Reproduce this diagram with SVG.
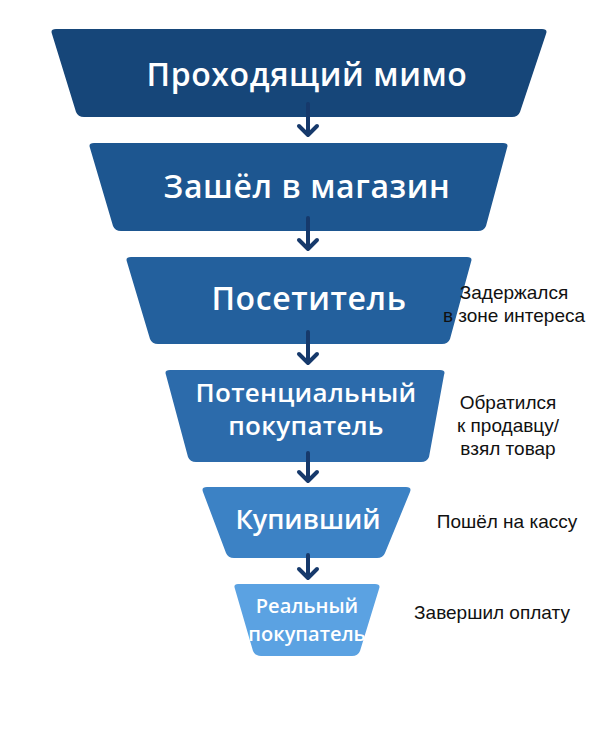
<svg xmlns="http://www.w3.org/2000/svg" width="614" height="739" viewBox="0 0 614 739">
<style>
.t{font-family:"Open Sans","DejaVu Sans",sans-serif;fill:#fff;font-weight:600;text-anchor:middle}
.s{font-family:"Liberation Sans",Arial,sans-serif;fill:#111;font-size:19px;text-anchor:middle}
.c{stroke:#16396b;stroke-width:4;fill:none;stroke-linecap:round;stroke-linejoin:round}
</style>
<rect width="614" height="739" fill="#fff"/>
<g id="n1"><path d="M56,29 H542 Q548,29 546,34 L520,112 Q518,117 512,117 H84 Q78,117 76,112 L52,34 Q50,29 56,29 Z" fill="#164679"/><text class="t" x="307" y="86" font-size="32" letter-spacing="0.6">Проходящий мимо</text></g>
<g id="n2"><path d="M94,143 H503 Q509,143 507,148 L486,226 Q484,231 478,231 H121 Q115,231 113,226 L90,148 Q88,143 94,143 Z" fill="#1d5690"/><text class="t" x="307" y="198" font-size="32" letter-spacing="0.6">Зашёл в магазин</text></g>
<g id="n3"><path d="M131,257 H467 Q473,257 471,262 L450,339 Q448,344 442,344 H158 Q152,344 150,339 L127,262 Q125,257 131,257 Z" fill="#23609d"/><text class="t" x="309" y="310" font-size="32" letter-spacing="0.6">Посетитель</text></g>
<g id="n4"><path d="M170,370 H440 Q446,370 444,375 L429,457 Q427,462 421,462 H196 Q190,462 188,457 L166,375 Q164,370 170,370 Z" fill="#2c6bab"/><text class="t" x="306" y="402" font-size="26" letter-spacing="0.3">Потенциальный</text><text class="t" x="306" y="435" font-size="26" letter-spacing="0.3">покупатель</text></g>
<g id="n5"><path d="M207,487 H406 Q412,487 410,492 L385,553 Q383,558 377,558 H234 Q228,558 226,553 L203,492 Q201,487 207,487 Z" fill="#3c82c5"/><text class="t" x="308" y="529" font-size="27">Купивший</text></g>
<g id="n6"><path d="M238,584 H375 Q381,584 379,589 L360,651 Q358,656 352,656 H261 Q255,656 253,651 L235,589 Q233,584 238,584 Z" fill="#5ba2e2"/><text class="t" x="307" y="613" font-size="20">Реальный</text><text class="t" x="307" y="641" font-size="20">покупатель</text></g>
<g id="notes">
<text class="s" x="514" y="299">Задержался</text><text class="s" x="514" y="322">в зоне интереса</text>
<text class="s" x="508" y="409">Обратился</text><text class="s" x="508" y="432">к продавцу/</text><text class="s" x="508" y="455">взял товар</text>
<text class="s" x="507" y="528">Пошёл на кассу</text>
<text class="s" x="492" y="619">Завершил оплату</text>
</g>
<g id="connectors">
<path class="c" d="M308,104 V135 M299,126 L308,135 L317,126"/>
<path class="c" d="M308,218 V249 M299,240 L308,249 L317,240"/>
<path class="c" d="M308,332 V363 M299,354 L308,363 L317,354"/>
<path class="c" d="M308,453 V481 M299,472 L308,481 L317,472"/>
<path class="c" d="M308,555 V578 M299,569 L308,578 L317,569"/>
</g>
</svg>
